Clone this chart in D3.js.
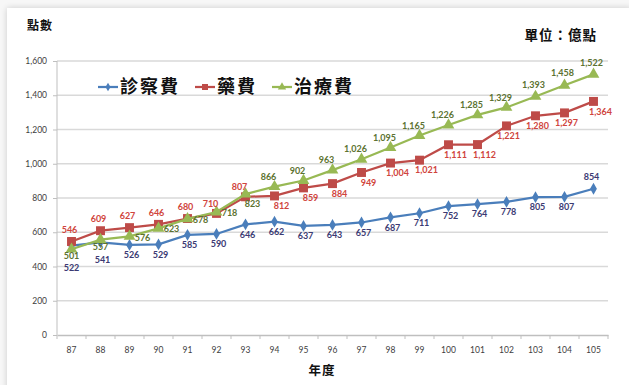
<!DOCTYPE html>
<html><head><meta charset="utf-8">
<script src="https://cdn.jsdelivr.net/npm/d3@7"></script>
<style>
html,body{margin:0;padding:0;background:#fff;}
svg{display:block;}
</style></head>
<body>
<svg id="c" width="629" height="385"></svg>
<script>
const years = ["87","88","89","90","91","92","93","94","95","96","97","98","99","100","101","102","103","104","105"];
const consult = [522,541,526,529,585,590,646,662,637,643,657,687,711,752,764,778,805,807,854];
const drug = [546,609,627,646,680,710,807,812,859,884,949,1004,1021,1111,1112,1221,1280,1297,1364];
const treat = [501,557,576,623,678,718,823,866,902,963,1026,1095,1165,1226,1285,1329,1393,1458,1522];
const seriesNames = ["診察費","藥費","治療費"];
const yTicks = [0,200,400,600,800,1000,1200,1400,1600];
// label placement codes per point
const consultPos = ["bb","bm","b","b","b","b","b","b","b","b","b","b","b","b","b","b","b","b","a"];
const drugPos = ["a","a","a","a","a","al","al","br","br","br","br","br","br","br","br","b","b","b","br"];
const treatPos = ["bs","bs","r","r","r","r","br","al","al","al","al","al","al","al","al","al","a","a","a"];

const offs = {a:[-2,-12], al:[-6,-10], r:[13,1], b:[2,10], bs:[0,7], br:[7,10], bb:[0,22.5], bm:[2,17]};

const svg = d3.select("#c");
const defs = svg.append("defs");
const f = defs.append("filter").attr("id","sh").attr("x","-5%").attr("y","-5%").attr("width","110%").attr("height","110%");
f.append("feGaussianBlur").attr("in","SourceAlpha").attr("stdDeviation",3).attr("result","b");
f.append("feOffset").attr("in","b").attr("dx",0).attr("dy",0).attr("result","o");
f.append("feComponentTransfer").append("feFuncA").attr("type","linear").attr("slope",0.18);
const m = f.append("feMerge"); m.append("feMergeNode"); m.append("feMergeNode").attr("in","SourceGraphic");
svg.append("rect").attr("width",629).attr("height",385).attr("fill","#f7f7f7");
svg.append("rect").attr("x",7).attr("y",8).attr("width",625).attr("height",390).attr("fill","#fff").attr("filter","url(#sh)");

const x = d3.scaleBand().domain(years).range([57,608]);
const y = d3.scaleLinear().domain([0,1600]).range([335,61]);

svg.append("g").selectAll("line").data(yTicks.filter(d=>d>0)).join("line")
  .attr("x1",57).attr("x2",608).attr("y1",d=>y(d)).attr("y2",d=>y(d))
  .attr("stroke","#d9d9d9").attr("stroke-width",1.5);

const ya = svg.append("g").attr("transform","translate(57,0)")
  .call(d3.axisLeft(y).tickValues(yTicks).tickSize(4).tickPadding(6).tickFormat(d3.format(",")));
ya.select(".domain").attr("stroke","#bfbfbf").attr("d","M0,61V335");
ya.selectAll(".tick line").attr("stroke","#bfbfbf");
ya.selectAll("text").attr("font-family","Lato, 'Open Sans', sans-serif").attr("font-size","8.5px").attr("fill","#404040");

const xa = svg.append("g").attr("transform","translate(0,335)")
  .call(d3.axisBottom(x).tickSize(0).tickPadding(12));
xa.select(".domain").attr("stroke","#bfbfbf").attr("stroke-width",1.5);
xa.selectAll("text").attr("font-family","Lato, 'Open Sans', sans-serif").attr("font-size","8.5px").attr("fill","#404040");
xa.append("g").selectAll("line").data(years.concat(["end"])).join("line")
  .attr("x1",(d,i)=>57+i*x.step()).attr("x2",(d,i)=>57+i*x.step())
  .attr("y1",0).attr("y2",4).attr("stroke","#bfbfbf");

const cx = d=>x(d)+x.bandwidth()/2;
const series = [
  {name:seriesNames[0], vals:consult, pos:consultPos, color:"#4a7ebb", lab:"#3b3a73", shape:"diamond"},
  {name:seriesNames[1], vals:drug, pos:drugPos, color:"#be4b48", lab:"#d0443c", shape:"square"},
  {name:seriesNames[2], vals:treat, pos:treatPos, color:"#98b954", lab:"#5c7230", shape:"triangle"}
];
const symType = {diamond:d3.symbolDiamond, square:d3.symbolSquare, triangle:d3.symbolTriangle};
const symSize = {diamond:40, square:80, triangle:60};
const legSize = {diamond:22, square:36, triangle:30};
const line = d3.line().x((d,i)=>cx(years[i])).y(d=>y(d));

series.forEach(s=>{
  svg.append("path").attr("d",line(s.vals)).attr("fill","none").attr("stroke",s.color).attr("stroke-width",2.25);
  svg.append("g").selectAll("path").data(s.vals).join("path")
    .attr("d",d3.symbol(symType[s.shape], symSize[s.shape])).attr("fill",s.color)
    .attr("transform",(d,i)=>`translate(${cx(years[i])},${y(d)})`);
});
series.forEach(s=>{
  svg.append("g").selectAll("text").data(s.vals).join("text")
    .attr("x",(d,i)=>cx(years[i])+offs[s.pos[i]][0])
    .attr("y",(d,i)=>y(d)+offs[s.pos[i]][1])
    .attr("dy","0.35em").attr("text-anchor","middle")
    .attr("font-family","Lato, 'Open Sans', sans-serif").attr("font-weight","bold")
    .attr("font-size","9px").attr("fill",s.lab)
    .text(d=>d3.format(",")(d));
});

const leg = [{x:98,tx:120},{x:195,tx:217},{x:272,tx:294}];
series.forEach((s,i)=>{
  const g = svg.append("g");
  g.append("line").attr("x1",leg[i].x).attr("x2",leg[i].x+20).attr("y1",87).attr("y2",87).attr("stroke",s.color).attr("stroke-width",2.25);
  g.append("path").attr("d",d3.symbol(symType[s.shape], legSize[s.shape])())
    .attr("fill",s.color).attr("transform",`translate(${leg[i].x+10},87)`);
  g.append("text").attr("x",leg[i].tx).attr("y",87).attr("dy","0.36em")
    .attr("font-family","'Noto Sans CJK TC', sans-serif").attr("font-weight","bold")
    .attr("font-size","18px").attr("letter-spacing","2px").attr("fill","#111").text(s.name);
});

const tf = "'Noto Sans CJK TC', sans-serif";
svg.append("text").attr("x",27).attr("y",30).attr("font-family",tf).attr("font-weight","bold").attr("font-size","12px").attr("letter-spacing","1px").attr("fill","#111").text("點數");
svg.append("text").attr("x",597).attr("y",40).attr("text-anchor","end").attr("font-family",tf).attr("font-weight","bold").attr("font-size","13.5px").attr("letter-spacing","1px").attr("fill","#111").text("單位：億點");
svg.append("text").attr("x",322).attr("y",375).attr("text-anchor","middle").attr("font-family",tf).attr("font-weight","bold").attr("font-size","12.5px").attr("letter-spacing","1px").attr("fill","#111").text("年度");
</script>
</body></html>
